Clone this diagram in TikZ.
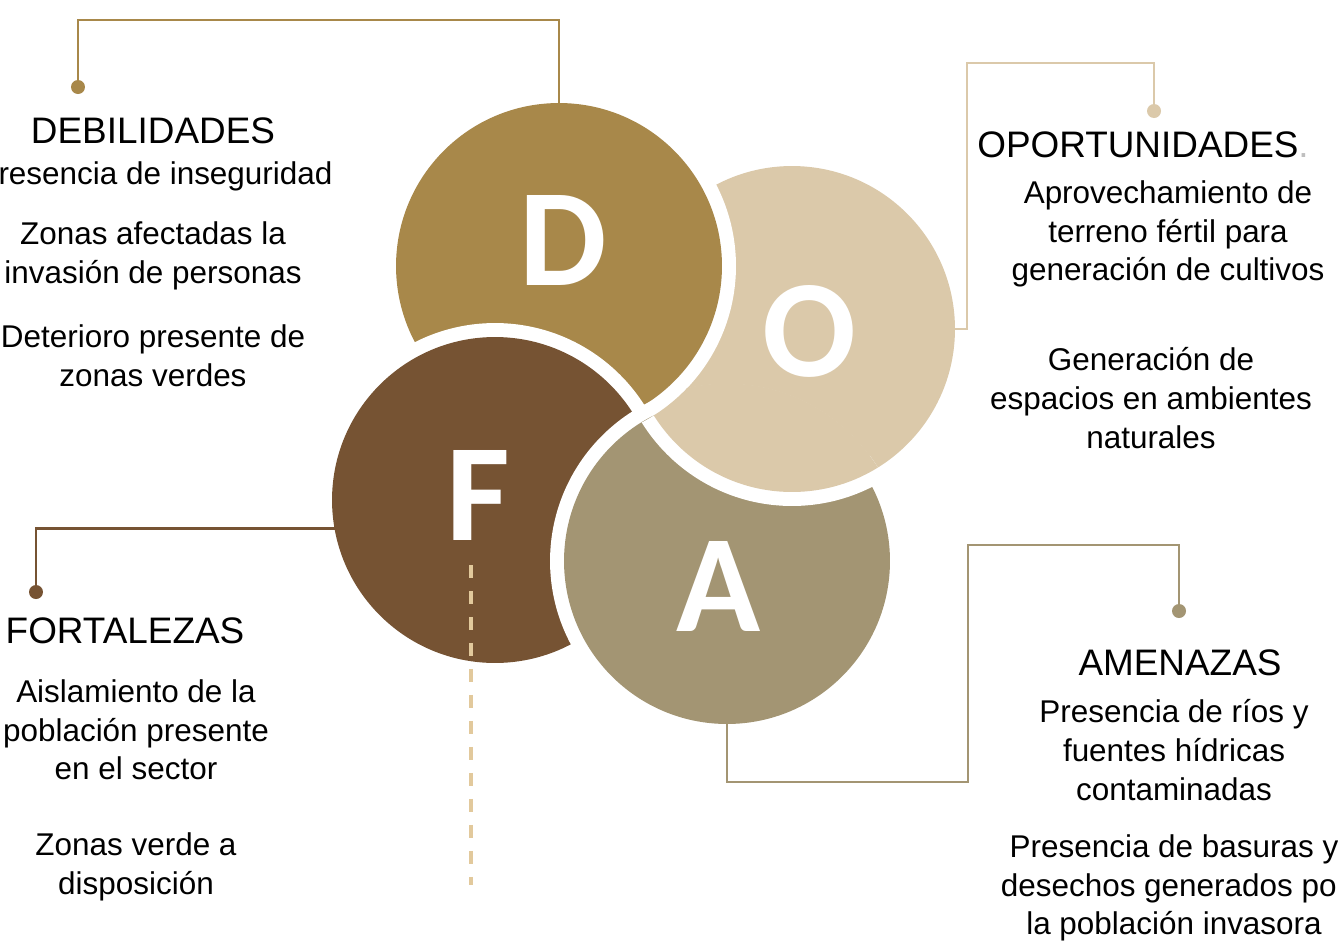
\documentclass[tikz,border=0pt]{standalone}
\usepackage{fontspec}
\setmainfont{Liberation Sans}
\newfontfamily\letterfont{Carlito}
\usetikzlibrary{calc}

\definecolor{debcol}{HTML}{A8884A}
\definecolor{opocol}{HTML}{DBC9AA}
\definecolor{forcol}{HTML}{765333}
\definecolor{amecol}{HTML}{A39573}
\definecolor{dashcol}{HTML}{E2C99C}

\tikzset{
  blob/.style={circle, minimum size=6.52cm, inner sep=0, outer sep=0,
    preaction={draw=white, line width=0.56cm}},
  bigletter/.style={text=white, inner sep=0,
    font=\letterfont\bfseries\fontsize{79}{79}\selectfont},
  heading/.style={inner sep=0, font=\fontsize{21}{25}\selectfont},
  entry/.style={align=center, inner sep=0, font=\fontsize{17.9}{22}\selectfont},
  knob/.style={circle, minimum size=0.28cm, inner sep=0},
  joint/.style={line width=1.6pt}
}

\begin{document}
\begin{tikzpicture}[x=0.02cm, y=-0.02cm]
  \fill[white] (0,0) rectangle (1338,947);
  \useasboundingbox (0,0) rectangle (1338,947);

  \node[blob, fill=opocol] (ocirc) at (792,329) {};
  \node[blob, fill=debcol] (dcirc) at (559,266) {};
  \node[blob, fill=forcol] (fcirc) at (495,500) {};
  \node[blob, fill=amecol] (acirc) at (727,561) {};
  \begin{scope}
    \clip (acirc.center) circle [radius=3.55cm];
    \begin{scope}[even odd rule]
      \clip (0,0) rectangle (1338,947) (dcirc.center) circle [radius=3.54cm];
      \node[blob, fill=opocol] (ocircover) at (ocirc.center) {};
    \end{scope}
  \end{scope}

  \node[bigletter] (dlet) at (563,240) {D};
  \node[bigletter] (olet) at (809,331) {O};
  \node[bigletter] (flet) at (478,495) {F};
  \node[bigletter] (alet) at (719,586) {A};

  \node[knob, fill=debcol] (ddot) at (78,87) {};
  \node[knob, fill=opocol] (odot) at (1154,111) {};
  \node[knob, fill=forcol] (fdot) at (36,592) {};
  \node[knob, fill=amecol] (adot) at (1179,611) {};

  \draw[joint, debcol] (ddot) -- (78,20) -| (dcirc.north);
  \draw[joint, opocol] (odot) |- (967,63) |- (ocirc.east);
  \draw[joint, forcol] (fdot) |- (fcirc.190);
  \draw[joint, amecol] (acirc.south) |- (968,782) -- (968,545) -| (adot);

  \coordinate (dashtop) at (471,565);
  \coordinate (dashbot) at (471,885);
  \draw[dashcol, line width=0.07cm, dash pattern=on 0.26cm off 0.26cm]
    (dashtop) -- (dashbot);

  \node[heading] (debhead) at (153,131) {DEBILIDADES};
  \node[entry] (deb1) at (155,176) {Presencia de inseguridad};
  \node[entry] (deb2) at (153,256) {Zonas afectadas la\\invasión de personas};
  \node[entry] (deb3) at (153,356) {Deterioro presente de\\zonas verdes};

  \node[heading] (opohead) at (1143,145) {OPORTUNIDADES{\color{lightgray}.}};
  \node[entry] (opo1) at (1168,234) {Aprovechamiento de\\terreno fértil para\\generación de cultivos};
  \node[entry] (opo2) at (1151,398) {Generación de\\espacios en ambientes\\naturales};

  \node[heading] (forhead) at (125,631) {FORTALEZAS};
  \node[entry] (for1) at (136,730) {Aislamiento de la\\población presente\\en el sector};
  \node[entry] (for2) at (136,867) {Zonas verde a\\disposición};

  \node[heading] (amehead) at (1180,663) {AMENAZAS};
  \node[entry] (ame1) at (1174,750) {Presencia de ríos y\\fuentes hídricas\\contaminadas};
  \node[entry] (ame2) at (1174,888) {Presencia de basuras y\\desechos generados por\\la población invasora};
\end{tikzpicture}
\end{document}
